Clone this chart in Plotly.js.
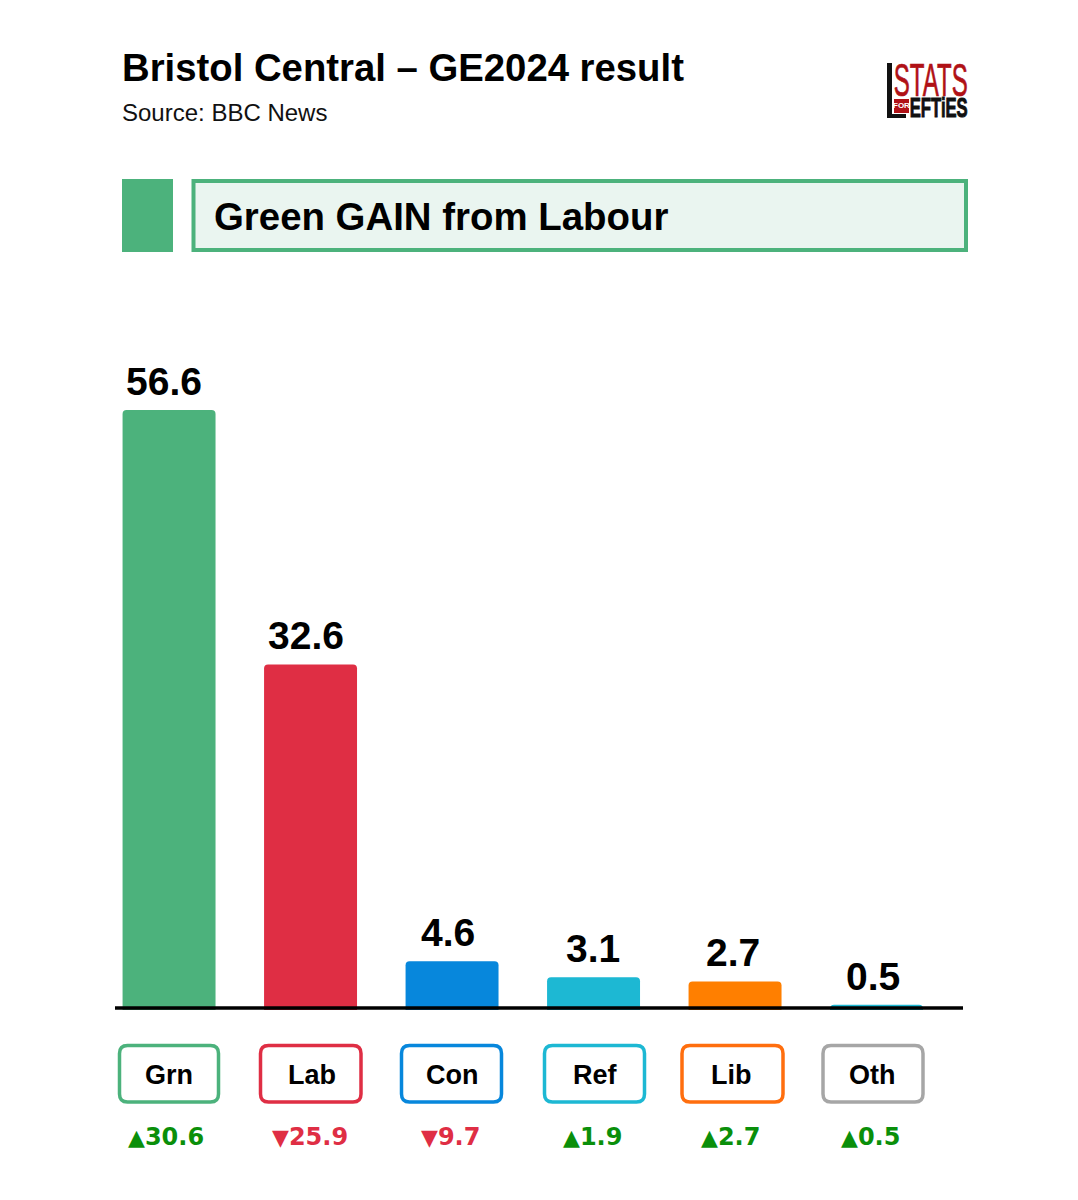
<!DOCTYPE html>
<html><head><meta charset="utf-8">
<script src="https://cdn.plot.ly/plotly-3.0.1.min.js"></script>
<style>html,body{margin:0;padding:0;background:#fff}</style></head>
<body><div id="chart" style="width:1078px;height:1200px"></div>
<script>
var parties = ['Grn','Lab','Con','Ref','Lib','Oth'];
var shares = [56.6,32.6,4.6,3.1,2.7,0.5];
var shareLabels = ['56.6','32.6','4.6','3.1','2.7','0.5'];
var changes = [30.6,-25.9,-9.7,1.9,2.7,0.5];
var barColors = ['#4CB27C','#DF2E44','#0787DC','#1DB8D3','#FF7F00','#1DB8D3'];
var boxColors = ['#4CB27C','#DF2E44','#0787DC','#1DB8D3','#FF6E0E','#A6A6A6'];

var L=115, R=963, T=300, B=1010;
function px(x){return (x-L)/(R-L);}
function py(y){return (B-y)/(B-T);}
var FONT='"Liberation Sans", Arial, sans-serif';
var UP='#0A8F0A', DOWN='#DF2E44';

function roundRect(x0,y0,x1,y1,r){
  var a=px(x0),b=px(x1),c=py(y0),d=py(y1),rx=r/(R-L),ry=r/(B-T);
  return 'M'+(a+rx)+' '+c+' L'+(b-rx)+' '+c+' Q'+b+' '+c+' '+b+' '+(c-ry)+' L'+b+' '+(d+ry)+
   ' Q'+b+' '+d+' '+(b-rx)+' '+d+' L'+(a+rx)+' '+d+' Q'+a+' '+d+' '+a+' '+(d+ry)+' L'+a+' '+(c-ry)+' Q'+a+' '+c+' '+(a+rx)+' '+c+' Z';
}
function rect(x0,y0,x1,y1,fill,lineColor,lw){
  return {type:'rect',xref:'paper',yref:'paper',x0:px(x0),x1:px(x1),y0:py(y0),y1:py(y1),
    fillcolor:fill,line:{color:lineColor||fill,width:lw||0},layer:'below'};
}
var boxEdges=[[119.5,218.5],[260.5,361],[401.5,501.5],[544.5,644.5],[682,783],[823,923]];
var labelShift=[-5,-4.5,-4,-0.5,-2.5,-4];
var nameShift=[0,1,0,1.5,-3.5,-4];
var changeShift=[-3,-1,-2,-1,-5,-6];

var shapes=[
  rect(122,179,173,252,'#4CB27C'),
  rect(193.5,181,966,250,'#EAF5F0','#4CB27C',4),
  rect(887,63,892,118,'#111'),
  rect(887,114,906,118,'#111'),
  rect(894,99,909,113,'#B01116'),
  {type:'line',xref:'paper',yref:'paper',x0:0,x1:1,y0:py(1008),y1:py(1008),line:{color:'#000',width:3.5},layer:'above'}
];
parties.forEach(function(p,i){
  shapes.push({type:'path',xref:'paper',yref:'paper',path:roundRect(boxEdges[i][0],1045.5,boxEdges[i][1],1102,8),
    line:{color:boxColors[i],width:3.5},fillcolor:'rgba(255,255,255,0)',layer:'below'});
});

var annotations=[
  {xref:'paper',yref:'paper',x:px(122),xshift:-2,y:py(113),xanchor:'left',yanchor:'middle',showarrow:false,
   text:'Source: BBC News',font:{family:FONT,size:24,color:'#111'}},
  {xref:'paper',yref:'paper',x:px(214),xshift:-2,y:py(217),xanchor:'left',yanchor:'middle',showarrow:false,
   text:'<b>Green GAIN from Labour</b>',font:{family:FONT,size:38.4,color:'#000'}},
  {xref:'paper',yref:'paper',x:px(930),y:py(79.5),xanchor:'center',yanchor:'middle',showarrow:false,
   text:'STATS',font:{family:'"Liberation Sans Narrow","Liberation Sans",sans-serif',size:46,color:'#B01116'}},
  {xref:'paper',yref:'paper',x:px(901.5),y:py(106),xanchor:'center',yanchor:'middle',showarrow:false,
   text:'<b>FOR</b>',font:{family:'"Liberation Sans Narrow","Liberation Sans",sans-serif',size:8,color:'#fff'}},
  {xref:'paper',yref:'paper',x:px(939),y:py(107.5),xanchor:'center',yanchor:'middle',showarrow:false,
   text:'<b>EFTiES</b>',font:{family:FONT,size:28,color:'#111'}}
];
parties.forEach(function(p,i){
  annotations.push({x:p,y:shares[i],xref:'x',yref:'y',yanchor:'bottom',xanchor:'center',xshift:labelShift[i],yshift:5,showarrow:false,
    text:'<b>'+shareLabels[i]+'</b>',font:{family:FONT,size:39,color:'#000'}});
  annotations.push({x:p,y:py(1075),xref:'x',yref:'paper',yanchor:'middle',xanchor:'center',xshift:nameShift[i],showarrow:false,
    text:'<b>'+p+'</b>',font:{family:FONT,size:27,color:'#000'}});
  var up=changes[i]>=0;
  annotations.push({x:p,y:py(1137),xref:'x',yref:'paper',yanchor:'middle',xanchor:'center',xshift:changeShift[i],showarrow:false,
    text:'<span style="font-size:22px">'+(up?'▲':'▼')+'</span><b>'+Math.abs(changes[i]).toFixed(1)+'</b>',
    font:{family:'"DejaVu Sans",sans-serif',size:24,color:up?UP:DOWN}});
});

var trace={type:'bar',x:parties,y:shares,width:0.657,marker:{color:barColors,line:{width:0}},hoverinfo:'x+y'};
var layout={
  width:1078,height:1200,autosize:false,
  paper_bgcolor:'#fff',plot_bgcolor:'#fff',
  margin:{l:L,r:1078-R,t:T,b:1200-B,pad:0},
  showlegend:false,barcornerradius:4,
  title:{text:'<b>Bristol Central – GE2024 result</b>',x:122/1078,xref:'container',xanchor:'left',
    y:1-68/1200,yref:'container',yanchor:'middle',font:{family:FONT,size:38.3,color:'#000'}},
  xaxis:{type:'category',categoryorder:'array',categoryarray:parties,range:[-0.382,5.611],showticklabels:false,ticks:'',
    showgrid:false,zeroline:false,showline:false,fixedrange:true},
  yaxis:{range:[0,(B-T)/10.6],showticklabels:false,ticks:'',showgrid:false,zeroline:false,showline:false,fixedrange:true},
  shapes:shapes,annotations:annotations
};
Plotly.newPlot('chart',[trace],layout,{displayModeBar:false,staticPlot:true}).then(function(gd){
  var targets={'STATS':[893,967,0.7],'EFTiES':[910,968,1]};
  gd.querySelectorAll('.annotation-text-g text').forEach(function(t){
    var w=targets[t.textContent]; if(!w) return;
    var b=t.getBBox(), cx=b.x+b.width/2, s=(w[1]-w[0])/b.width;
    t.setAttribute('transform','translate('+cx+' 0) scale('+s+' 1) translate('+(-cx)+' 0)');
    t.style.stroke=t.style.fill||'#111';
    t.style.strokeWidth=w[2]+'px';
  });
});
</script></body></html>
